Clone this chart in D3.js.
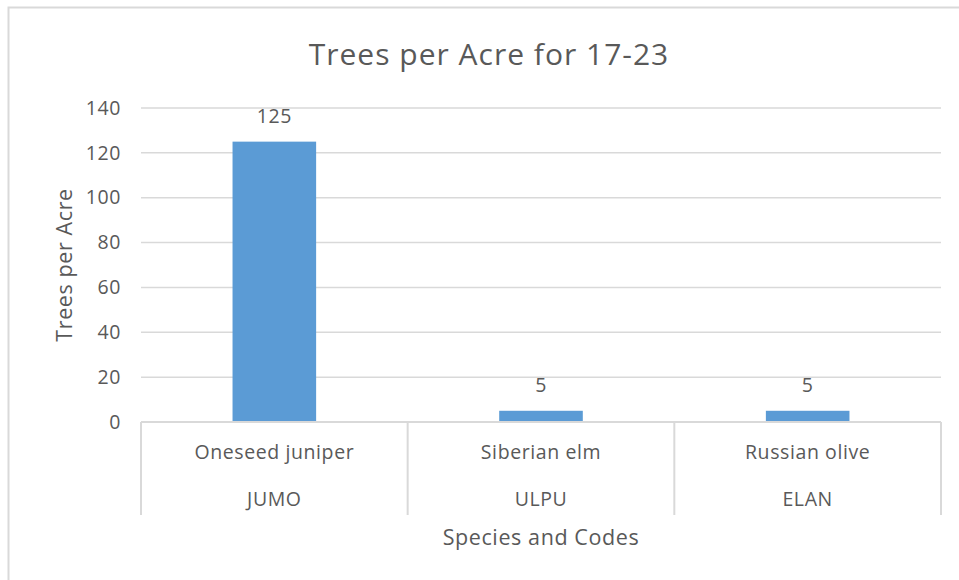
<!DOCTYPE html>
<html>
<head>
<meta charset="utf-8">
<script src="https://cdn.jsdelivr.net/npm/d3@7"></script>
<style>
  body { margin: 0; background: #fff; }
  text { font-family: 'Open Sans', sans-serif; fill: #595959; letter-spacing: 0.6px; }
</style>
</head>
<body>
<div id="chart"></div>
<script>
// chart values
var species = ['Oneseed juniper', 'Siberian elm', 'Russian olive'];
var codes = ['JUMO', 'ULPU', 'ELAN'];
var treesPerAcre = [125, 5, 5];
var yTicks = [0, 20, 40, 60, 80, 100, 120, 140];

var w = 959, h = 580;

var svg = d3.select('#chart').append('svg')
  .attr('width', w)
  .attr('height', h);

// outer chart border (runs off the right and bottom of the picture)
svg.append('rect')
  .attr('x', 8.5).attr('y', 7.5)
  .attr('width', 1000).attr('height', 1000)
  .attr('fill', 'none')
  .attr('stroke', '#d9d9d9')
  .attr('stroke-width', 2);

var pLeft = 141, pRight = 941, pTop = 108, pBottom = 422;

var x = d3.scaleBand()
  .domain(species)
  .range([pLeft, pRight])
  .paddingInner(0)
  .paddingOuter(0);

var y = d3.scaleLinear()
  .domain([0, 140])
  .range([pBottom, pTop]);

// gridlines
svg.append('g')
  .selectAll('line')
  .data(yTicks)
  .enter()
  .append('line')
  .attr('x1', pLeft).attr('x2', pRight)
  .attr('y1', function(d) { return y(d); })
  .attr('y2', function(d) { return y(d); })
  .attr('stroke', '#d9d9d9')
  .attr('stroke-width', 1.5);

// y axis labels
var yAxis = d3.axisLeft(y).tickValues(yTicks).tickSize(0).tickPadding(20);
var gy = svg.append('g')
  .attr('transform', 'translate(' + pLeft + ',0)')
  .call(yAxis);
gy.select('.domain').remove();
gy.selectAll('text')
  .style('font-family', "'Open Sans', sans-serif")
  .attr('font-size', 19.5)
  .attr('fill', '#595959');

// bars
var barW = x.bandwidth() / 3.19;
svg.selectAll('.bar')
  .data(treesPerAcre)
  .enter()
  .append('rect')
  .attr('class', 'bar')
  .attr('x', function(d, i) { return x(species[i]) + (x.bandwidth() - barW) / 2; })
  .attr('y', function(d) { return y(d); })
  .attr('width', barW)
  .attr('height', function(d) { return y(0) - y(d); })
  .attr('fill', '#5b9bd5');

// data labels
svg.selectAll('.lbl')
  .data(treesPerAcre)
  .enter()
  .append('text')
  .attr('class', 'lbl')
  .attr('x', function(d, i) { return x(species[i]) + x.bandwidth() / 2; })
  .attr('y', function(d) { return y(d) - 19; })
  .attr('text-anchor', 'middle')
  .attr('font-size', 19.5)
  .text(function(d) { return d; });

// category axis: baseline and separators
svg.append('line')
  .attr('x1', pLeft).attr('x2', pRight)
  .attr('y1', pBottom).attr('y2', pBottom)
  .attr('stroke', '#d9d9d9').attr('stroke-width', 2);

var seps = species.map(function(s) { return x(s); }).concat([pRight]);
svg.selectAll('.sep')
  .data(seps)
  .enter()
  .append('line')
  .attr('class', 'sep')
  .attr('x1', function(d) { return d; })
  .attr('x2', function(d) { return d; })
  .attr('y1', pBottom).attr('y2', 515)
  .attr('stroke', '#d9d9d9').attr('stroke-width', 2);

svg.selectAll('.cat')
  .data(species)
  .enter()
  .append('text')
  .attr('class', 'cat')
  .attr('x', function(d) { return x(d) + x.bandwidth() / 2; })
  .attr('y', 459)
  .attr('text-anchor', 'middle')
  .attr('font-size', 19.5)
  .text(function(d) { return d; });

svg.selectAll('.code')
  .data(codes)
  .enter()
  .append('text')
  .attr('class', 'code')
  .attr('x', function(d, i) { return x(species[i]) + x.bandwidth() / 2; })
  .attr('y', 506)
  .attr('text-anchor', 'middle')
  .attr('font-size', 19.5)
  .text(function(d) { return d; });

// titles
svg.append('text')
  .attr('x', 489).attr('y', 65)
  .attr('text-anchor', 'middle')
  .attr('font-size', 30)
  .style('letter-spacing', '1px')
  .text('Trees per Acre for 17-23');

svg.append('text')
  .attr('x', (pLeft + pRight) / 2).attr('y', 545)
  .attr('text-anchor', 'middle')
  .attr('font-size', 21.5)
  .text('Species and Codes');

svg.append('text')
  .attr('transform', 'translate(72,' + (pTop + pBottom) / 2 + ') rotate(-90)')
  .attr('text-anchor', 'middle')
  .attr('font-size', 21.5)
  .text('Trees per Acre');
</script>
</body>
</html>
